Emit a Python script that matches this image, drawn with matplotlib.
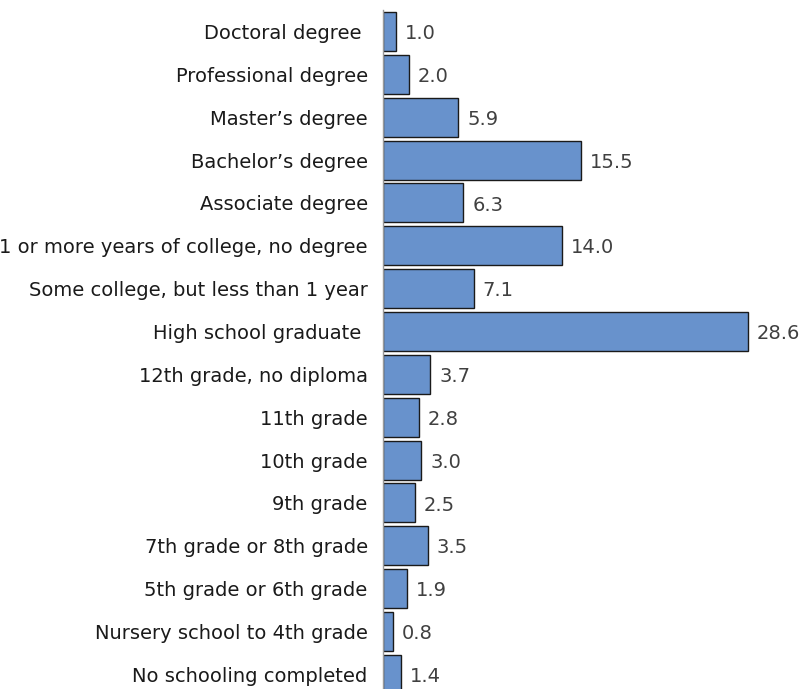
import numpy as np
import matplotlib.pyplot as plt

labels = ["No schooling completed", "Nursery school to 4th grade", "5th grade or 6th grade",
          "7th grade or 8th grade", "9th grade", "10th grade", "11th grade",
          "12th grade, no diploma", "High school graduate ", "Some college, but less than 1 year",
          "1 or more years of college, no degree", "Associate degree", "Bachelor's degree",
          "Master's degree", "Professional degree", "Doctoral degree "]
labels = [l.replace("'", "\u2019") for l in labels]
values = [1.4, 0.8, 1.9, 3.5, 2.5, 3.0, 2.8, 3.7, 28.6, 7.1, 14.0, 6.3, 15.5, 5.9, 2.0, 1.0]

fig = plt.figure(figsize=(8.04, 6.89), dpi=100)
ax = fig.add_axes([383/804, 0, 421/804, 679/689])

y = np.arange(len(values))
ax.barh(y, values, height=0.91, color='#6892cc', edgecolor='#1a1a1a', linewidth=1.0)
for yi, v in zip(y, values):
    ax.text(v + 0.7, yi - 0.05, f"{v:.1f}", va='center', ha='left', fontsize=14, color='#404040')

ax.set_yticks(y)
ax.set_yticklabels(labels, fontsize=14, color='#1a1a1a')
ax.tick_params(axis='y', length=0, pad=11)
ax.set_xticks([])
ax.set_xlim(0, 33.0)
ax.set_ylim(-0.34, 15.5)
for s in ['top', 'right', 'bottom']:
    ax.spines[s].set_visible(False)
ax.spines['left'].set_color('#999999')
ax.spines['left'].set_linewidth(1.0)

fig.savefig('out.png', dpi=100)
